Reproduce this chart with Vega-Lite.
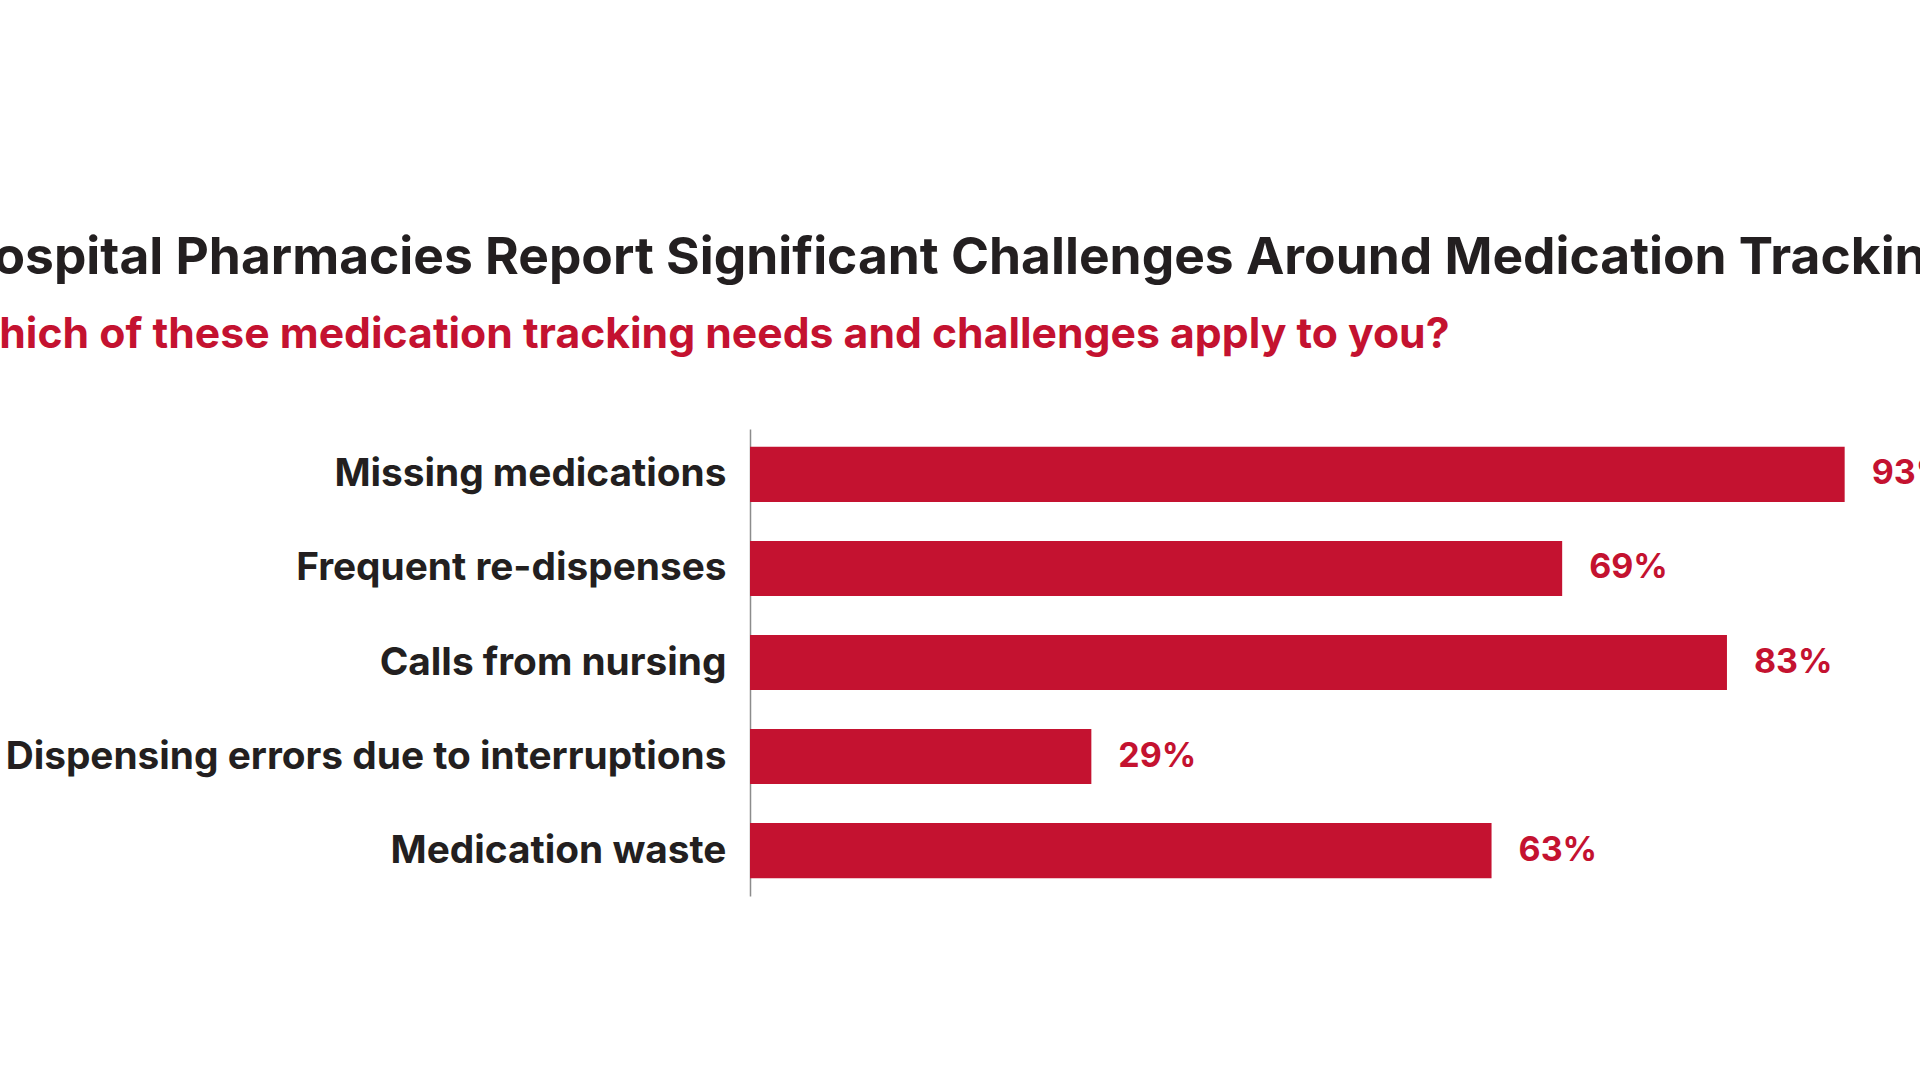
{
  "$schema": "https://vega.github.io/schema/vega-lite/v6.json",
  "autosize": {"type": "none"},
  "width": 1170,
  "height": 467,
  "padding": {"left": 750, "top": 429, "right": 0, "bottom": 184},
  "background": "white",
  "title": {
    "text": "Hospital Pharmacies Report Significant Challenges Around Medication Tracking",
    "subtitle": "Which of these medication tracking needs and challenges apply to you?",
    "anchor": "start",
    "frame": "group",
    "dx": -795,
    "offset": 72,
    "font": "Inter",
    "fontSize": 51.5,
    "fontWeight": 700,
    "color": "#231f20",
    "subtitleFont": "Inter",
    "subtitleFontSize": 42.7,
    "subtitleFontWeight": 700,
    "subtitleColor": "#c41230",
    "subtitlePadding": 30
  },
  "data": {
    "values": [
      {"challenge": "Missing medications", "share": 0.93},
      {"challenge": "Frequent re-dispenses", "share": 0.69},
      {"challenge": "Calls from nursing", "share": 0.83},
      {"challenge": "Dispensing errors due to interruptions", "share": 0.29},
      {"challenge": "Medication waste", "share": 0.63}
    ]
  },
  "encoding": {
    "y": {
      "field": "challenge",
      "type": "nominal",
      "sort": null,
      "scale": {"paddingInner": 0.415, "paddingOuter": 0.19},
      "axis": {
        "title": null,
        "ticks": false,
        "grid": false,
        "domain": true,
        "domainColor": "#8c8c8c",
        "domainWidth": 1.5,
        "labelFont": "Inter",
        "labelFontSize": 38.8,
        "labelFontWeight": 700,
        "labelColor": "#231f20",
        "labelPadding": 24,
        "labelLimit": 1000
      }
    },
    "x": {
      "field": "share",
      "type": "quantitative",
      "scale": {"domain": [0, 0.994], "nice": false},
      "axis": null
    }
  },
  "layer": [
    {"mark": {"type": "bar", "color": "#c41230"}},
    {
      "mark": {
        "type": "text",
        "align": "left",
        "baseline": "middle",
        "dx": 27,
        "font": "Inter",
        "fontSize": 34,
        "fontWeight": 700,
        "color": "#c41230"
      },
      "encoding": {"text": {"field": "share", "type": "quantitative", "format": ".0%"}}
    }
  ],
  "config": {"view": {"stroke": null}}
}
